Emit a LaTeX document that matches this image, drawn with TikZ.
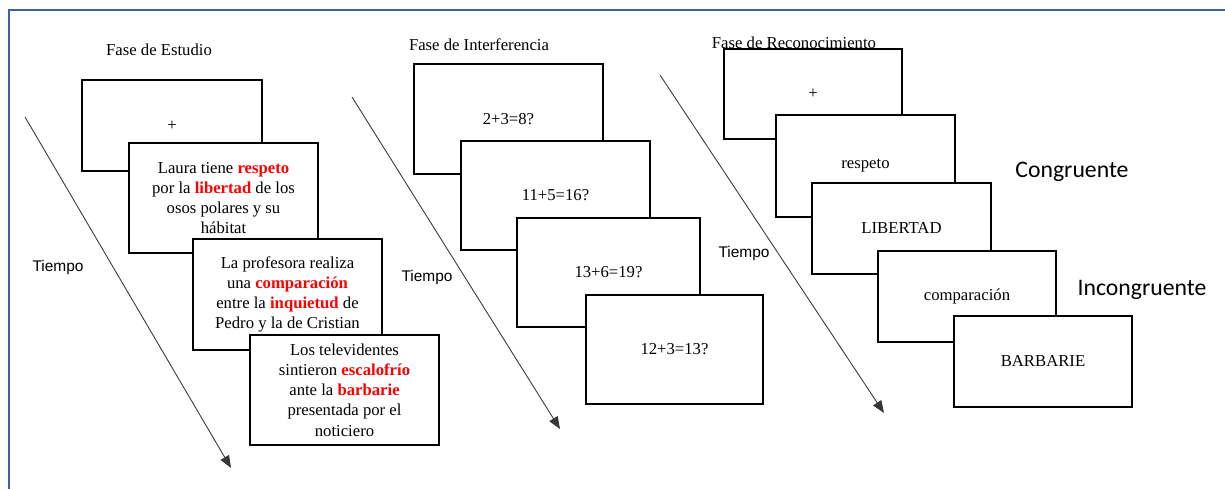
\documentclass[tikz,border=0pt]{standalone}
\usepackage{fontspec}
\setmainfont{Liberation Serif}
\newfontfamily\arialfont{Liberation Sans}
\newfontfamily\calibrifont{Carlito}
\usepackage{xcolor}
\usepackage{tikz}
\usetikzlibrary{arrows.meta}
\definecolor{marco}{RGB}{62,96,156}
\definecolor{grisflecha}{RGB}{55,55,55}
\newcommand{\clave}[1]{\textcolor{red}{\textbf{#1}}}
\tikzset{
  pantalla/.style={
    draw,
    line width=1.1pt,
    fill=white,
    shape=rectangle,
    align=center,
    inner sep=0pt,
    font=\fontsize{9.5}{11.5}\selectfont
  },
  titulo/.style={
    font=\fontsize{9.5}{11}\selectfont,
    inner sep=0pt
  },
  tiempo/.style={
    font=\arialfont\fontsize{8.8}{10}\selectfont,
    inner sep=0pt
  },
  condicion/.style={
    font=\calibrifont\fontsize{13.5}{15}\selectfont,
    inner sep=0pt
  },
  flecha/.style={
    draw=grisflecha,
    line width=0.5pt,
    -{Triangle[length=7pt,width=5.5pt]}
  },
  marcobox/.style={
    draw=marco,
    line width=1.4pt
  }
}

\begin{document}
\begin{tikzpicture}[x=0.02cm,y=-0.02cm]
  \useasboundingbox (0,0) rectangle (1225,488);
  \draw[marcobox] (9,492) |- (1230,10);

  % fase de estudio
  \node[titulo] (tit1) at (159,50) {Fase de Estudio};
  \node[pantalla, minimum width=3.6cm, minimum height=1.82cm] (e1) at (172,125.5) {+};
  \node[pantalla, minimum width=3.78cm, minimum height=2.2cm] (e2) at (223.5,198)
    {Laura tiene \clave{respeto}\\por la \clave{libertad} de los\\osos polares y su\\hábitat};
  \node[pantalla, minimum width=3.78cm, minimum height=2.22cm] (e3) at (287.5,294.5)
    {La profesora realiza\\una \clave{comparación}\\entre la \clave{inquietud} de\\Pedro y la de Cristian};
  \node[pantalla, minimum width=3.78cm, minimum height=2.2cm] (e4) at (344.5,390)
    {Los televidentes\\sintieron \clave{escalofrío}\\ante la \clave{barbarie}\\presentada por el\\noticiero};
  \coordinate (ini1) at (25,117);
  \coordinate (fin1) at (231,468);
  \draw[flecha] (ini1) -- (fin1);
  \node[tiempo] (tie1) at (58,267) {Tiempo};

  % fase de interferencia
  \node[titulo] (tit2) at (479,45) {Fase de Interferencia};
  \node[pantalla, minimum width=3.78cm, minimum height=2.2cm] (i1) at (508.5,119) {2+3=8?};
  \node[pantalla, minimum width=3.78cm, minimum height=2.18cm] (i2) at (555.5,195.5) {11+5=16?};
  \node[pantalla, minimum width=3.66cm, minimum height=2.18cm] (i3) at (608.5,272.5) {13+6=19?};
  \node[pantalla, minimum width=3.54cm, minimum height=2.18cm] (i4) at (674.5,349.5) {12+3=13?};
  \coordinate (ini2) at (352,97);
  \coordinate (fin2) at (560,429);
  \draw[flecha] (ini2) -- (fin2);
  \node[tiempo] (tie2) at (427,277) {Tiempo};

  % fase de reconocimiento
  \node[titulo] (tit3) at (794,43) {Fase de Reconocimiento};
  \node[pantalla, minimum width=3.56cm, minimum height=1.8cm] (r1) at (813,94) {+};
  \node[pantalla, minimum width=3.58cm, minimum height=2.04cm] (r2) at (865.5,166) {respeto};
  \node[pantalla, minimum width=3.58cm, minimum height=1.82cm] (r3) at (901.5,228.5) {LIBERTAD};
  \node[pantalla, minimum width=3.56cm, minimum height=1.82cm] (r4) at (967,296.5) {comparación};
  \node[pantalla, minimum width=3.56cm, minimum height=1.82cm] (r5) at (1043,361.5) {BARBARIE};
  \coordinate (ini3) at (660,75);
  \coordinate (fin3) at (884,413);
  \draw[flecha] (ini3) -- (fin3);
  \node[tiempo] (tie3) at (744,253) {Tiempo};
  \node[condicion] (cong) at (1072,172) {Congruente};
  \node[condicion] (incong) at (1142,290) {Incongruente};
\end{tikzpicture}
\end{document}
